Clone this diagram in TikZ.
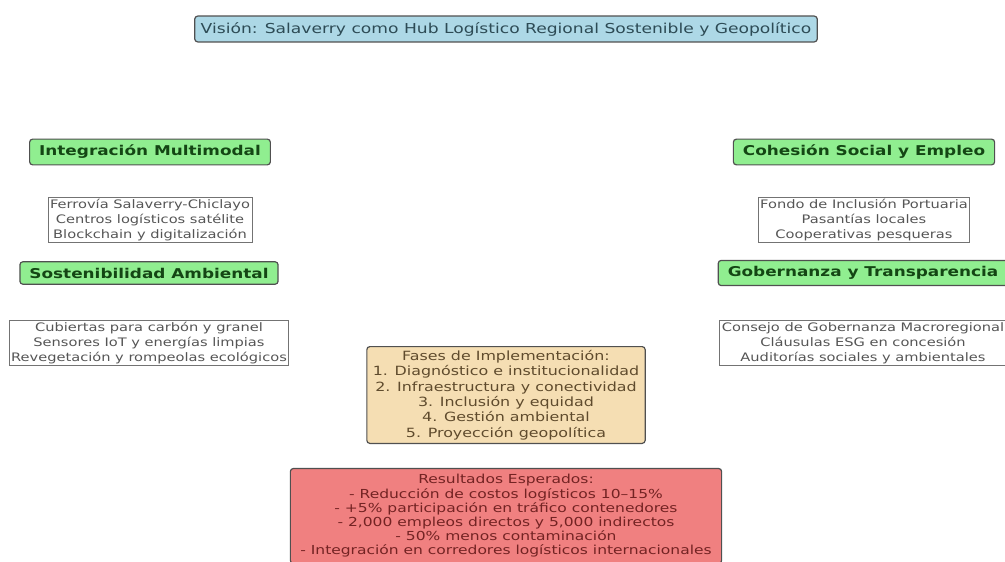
\documentclass[tikz,border=0pt]{standalone}
\usepackage{fontspec}
\setmainfont{DejaVu Sans}[FakeStretch=1.25]
\usetikzlibrary{positioning}
\definecolor{visionfill}{RGB}{173,216,230}
\definecolor{ejefill}{RGB}{144,238,144}
\definecolor{fasesfill}{RGB}{245,222,179}
\definecolor{resfill}{RGB}{240,128,128}
\definecolor{bordegris}{RGB}{80,80,80}
\definecolor{visiontext}{RGB}{45,75,85}
\definecolor{ejetext}{RGB}{20,70,20}
\definecolor{subtext}{RGB}{85,85,85}
\definecolor{fasestext}{RGB}{95,75,45}
\definecolor{restext}{RGB}{115,35,35}
\tikzset{
  caja/.style={draw=bordegris, line width=1.2pt, rounded corners=3pt, align=center},
  vision/.style={caja, fill=visionfill, text=visiontext, inner xsep=6pt, inner ysep=6pt, font=\fontsize{13.7}{16}\selectfont},
  eje/.style={caja, fill=ejefill, text=ejetext, inner xsep=9.5pt, inner ysep=6pt, font=\fontsize{13.5}{16}\selectfont\bfseries},
  detalle/.style={draw=bordegris!80, line width=0.8pt, fill=white, text=subtext, align=center, inner xsep=2pt, inner ysep=2pt, font=\fontsize{11.7}{15}\selectfont},
  fases/.style={caja, fill=fasesfill, text=fasestext, inner xsep=6pt, inner ysep=3.5pt, font=\fontsize{12.7}{15.4}\selectfont},
  resultados/.style={caja, fill=resfill, text=restext, inner xsep=10pt, inner ysep=6pt, font=\fontsize{12.4}{14.2}\selectfont}
}
\begin{document}
\begin{tikzpicture}[x=1pt, y=-1pt]
			%%%%% START %%%%%
			
			\useasboundingbox[fill=white] (0, 0) rectangle (1005, 562);
			
			\node[vision] (vision) at (506, 29) {Visión: Salaverry como Hub Logístico Regional Sostenible y Geopolítico};
			
			\node[eje] (multimodal) at (150, 152) {Integración Multimodal};
			\node[detalle] (multimodaldet) at (150, 220) {Ferrovía Salaverry-Chiclayo\\Centros logísticos satélite\\Blockchain y digitalización};
			
			\node[eje] (ambiental) at (149, 273) {Sostenibilidad Ambiental};
			\node[detalle] (ambientaldet) at (149, 343) {Cubiertas para carbón y granel\\Sensores IoT y energías limpias\\Revegetación y rompeolas ecológicos};
			
			\node[eje] (social) at (864, 152) {Cohesión Social y Empleo};
			\node[detalle] (socialdet) at (864, 220) {Fondo de Inclusión Portuaria\\Pasantías locales\\Cooperativas pesqueras};
			
			\node[eje] (gobernanza) at (863, 273) {Gobernanza y Transparencia};
			\node[detalle] (gobernanzadet) at (863, 343) {Consejo de Gobernanza Macroregional\\Cláusulas ESG en concesión\\Auditorías sociales y ambientales};
			
			\node[fases] (fases) at (506, 395) {Fases de Implementación:\\1. Diagnóstico e institucionalidad\\2. Infraestructura y conectividad\\3. Inclusión y equidad\\4. Gestión ambiental\\5. Proyección geopolítica};
			
			\node[resultados] (resultados) at (506, 516) {Resultados Esperados:\\- Reducción de costos logísticos 10–15\%\\- +5\% participación en tráfico contenedores\\- 2,000 empleos directos y 5,000 indirectos\\- 50\% menos contaminación\\- Integración en corredores logísticos internacionales};
			
			%%%%% END %%%%%
\end{tikzpicture}
\end{document}
